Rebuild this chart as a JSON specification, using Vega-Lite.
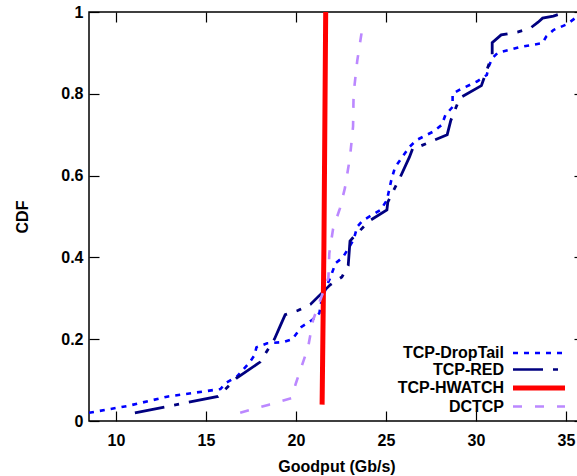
{
  "$schema": "https://vega.github.io/schema/vega-lite/v6.json",
  "autosize": {"type": "none"},
  "padding": {"left": 89, "top": 12, "right": 0, "bottom": 55},
  "width": 495,
  "height": 409,
  "background": "white",
  "config": {
    "view": {"stroke": "black", "strokeWidth": 1.5},
    "font": "Liberation Sans",
    "axis": {"grid": false, "domain": false, "tickColor": "black", "tickWidth": 1.2, "tickSize": -10,
      "labelFont": "Liberation Sans", "labelFontWeight": "bold", "labelFontSize": 16, "labelColor": "black",
      "titleFont": "Liberation Sans", "titleFontWeight": "bold", "titleFontSize": 16, "titleColor": "black"}
  },
  "data": {"values": [
    {"s":"TCP-DropTail","x":8.5,"y":0.02},{"s":"TCP-DropTail","x":10.67,"y":0.037},{"s":"TCP-DropTail","x":12.9,"y":0.06},{"s":"TCP-DropTail","x":14.5,"y":0.07},{"s":"TCP-DropTail","x":15.8,"y":0.078},{"s":"TCP-DropTail","x":16.1,"y":0.093},{"s":"TCP-DropTail","x":16.7,"y":0.108},{"s":"TCP-DropTail","x":17.4,"y":0.142},{"s":"TCP-DropTail","x":17.7,"y":0.161},{"s":"TCP-DropTail","x":17.8,"y":0.18},{"s":"TCP-DropTail","x":18.4,"y":0.19},{"s":"TCP-DropTail","x":19.3,"y":0.193},{"s":"TCP-DropTail","x":19.8,"y":0.2},{"s":"TCP-DropTail","x":20.3,"y":0.23},{"s":"TCP-DropTail","x":20.9,"y":0.247},{"s":"TCP-DropTail","x":21.3,"y":0.264},{"s":"TCP-DropTail","x":21.4,"y":0.29},{"s":"TCP-DropTail","x":21.7,"y":0.33},{"s":"TCP-DropTail","x":21.9,"y":0.35},{"s":"TCP-DropTail","x":22.2,"y":0.386},{"s":"TCP-DropTail","x":22.6,"y":0.4},{"s":"TCP-DropTail","x":23.2,"y":0.443},{"s":"TCP-DropTail","x":23.4,"y":0.475},{"s":"TCP-DropTail","x":23.7,"y":0.49},{"s":"TCP-DropTail","x":24.7,"y":0.516},{"s":"TCP-DropTail","x":25.05,"y":0.54},{"s":"TCP-DropTail","x":25.3,"y":0.59},{"s":"TCP-DropTail","x":25.5,"y":0.62},{"s":"TCP-DropTail","x":26.3,"y":0.67},{"s":"TCP-DropTail","x":26.7,"y":0.687},{"s":"TCP-DropTail","x":27.6,"y":0.707},{"s":"TCP-DropTail","x":28.1,"y":0.724},{"s":"TCP-DropTail","x":28.3,"y":0.748},{"s":"TCP-DropTail","x":28.7,"y":0.768},{"s":"TCP-DropTail","x":28.7,"y":0.8},{"s":"TCP-DropTail","x":29.1,"y":0.81},{"s":"TCP-DropTail","x":30.05,"y":0.83},{"s":"TCP-DropTail","x":30.6,"y":0.846},{"s":"TCP-DropTail","x":30.7,"y":0.866},{"s":"TCP-DropTail","x":30.9,"y":0.887},{"s":"TCP-DropTail","x":31.2,"y":0.9},{"s":"TCP-DropTail","x":32.4,"y":0.914},{"s":"TCP-DropTail","x":33.7,"y":0.924},{"s":"TCP-DropTail","x":33.9,"y":0.94},{"s":"TCP-DropTail","x":34.3,"y":0.956},{"s":"TCP-DropTail","x":35.05,"y":0.97},{"s":"TCP-DropTail","x":35.6,"y":0.988},{"s":"TCP-DropTail","x":36,"y":1.0},
    {"s":"TCP-RED","x":11.05,"y":0.02},{"s":"TCP-RED","x":15.67,"y":0.06},{"s":"TCP-RED","x":16.7,"y":0.105},{"s":"TCP-RED","x":18.0,"y":0.144},{"s":"TCP-RED","x":18.8,"y":0.2},{"s":"TCP-RED","x":19.1,"y":0.23},{"s":"TCP-RED","x":19.4,"y":0.26},{"s":"TCP-RED","x":20.1,"y":0.27},{"s":"TCP-RED","x":20.8,"y":0.285},{"s":"TCP-RED","x":21.6,"y":0.32},{"s":"TCP-RED","x":21.9,"y":0.333},{"s":"TCP-RED","x":22.55,"y":0.352},{"s":"TCP-RED","x":22.9,"y":0.38},{"s":"TCP-RED","x":23.0,"y":0.44},{"s":"TCP-RED","x":23.2,"y":0.45},{"s":"TCP-RED","x":24.1,"y":0.49},{"s":"TCP-RED","x":25.05,"y":0.516},{"s":"TCP-RED","x":25.1,"y":0.535},{"s":"TCP-RED","x":25.8,"y":0.597},{"s":"TCP-RED","x":26.3,"y":0.645},{"s":"TCP-RED","x":26.5,"y":0.668},{"s":"TCP-RED","x":26.9,"y":0.672},{"s":"TCP-RED","x":27.7,"y":0.687},{"s":"TCP-RED","x":28.4,"y":0.7},{"s":"TCP-RED","x":28.6,"y":0.735},{"s":"TCP-RED","x":29.1,"y":0.79},{"s":"TCP-RED","x":30.3,"y":0.82},{"s":"TCP-RED","x":30.9,"y":0.895},{"s":"TCP-RED","x":30.9,"y":0.925},{"s":"TCP-RED","x":31.4,"y":0.944},{"s":"TCP-RED","x":32.3,"y":0.951},{"s":"TCP-RED","x":33.0,"y":0.96},{"s":"TCP-RED","x":33.45,"y":0.975},{"s":"TCP-RED","x":33.7,"y":0.985},{"s":"TCP-RED","x":34.3,"y":0.99},{"s":"TCP-RED","x":35.0,"y":1.0},
    {"s":"TCP-HWATCH","x":21.45,"y":0.04},{"s":"TCP-HWATCH","x":21.55,"y":0.42},{"s":"TCP-HWATCH","x":21.65,"y":1.0},
    {"s":"DCTCP","x":16.9,"y":0.02},{"s":"DCTCP","x":18.5,"y":0.04},{"s":"DCTCP","x":19.75,"y":0.056},{"s":"DCTCP","x":20.0,"y":0.093},{"s":"DCTCP","x":20.3,"y":0.132},{"s":"DCTCP","x":20.67,"y":0.18},{"s":"DCTCP","x":20.95,"y":0.247},{"s":"DCTCP","x":21.3,"y":0.29},{"s":"DCTCP","x":21.8,"y":0.35},{"s":"DCTCP","x":21.85,"y":0.41},{"s":"DCTCP","x":22.06,"y":0.47},{"s":"DCTCP","x":22.44,"y":0.52},{"s":"DCTCP","x":22.72,"y":0.57},{"s":"DCTCP","x":23.0,"y":0.645},{"s":"DCTCP","x":23.17,"y":0.72},{"s":"DCTCP","x":23.2,"y":0.8},{"s":"DCTCP","x":23.4,"y":0.88},{"s":"DCTCP","x":23.7,"y":0.965}
  ]},
  "resolve": {"axis": {"x": "independent", "y": "independent"}},
  "layer": [
    {
      "transform": [{"filter": "datum.s === 'TCP-DropTail'"}],
      "mark": {"type": "line", "clip": true, "strokeWidth": 2.6},
      "encoding": {
        "x": {"field": "x", "type": "quantitative", "scale": {"domain": [8.5, 36], "nice": false, "zero": false},
          "axis": {"orient": "bottom", "values": [10,15,20,25,30,35], "title": "Goodput (Gb/s)", "labelPadding": 21, "titlePadding": 10}},
        "y": {"field": "y", "type": "quantitative", "scale": {"domain": [0, 1], "nice": false},
          "axis": {"orient": "left", "values": [0,0.2,0.4,0.6,0.8,1], "format": "~g", "title": "CDF", "labelPadding": 16, "titlePadding": 30}},
        "color": {"field": "s", "type": "nominal", "scale": {"domain": ["TCP-DropTail","TCP-RED","TCP-HWATCH","DCTCP"], "range": ["#0000ff","#000080","#ff0000","#bb88ff"]},
          "legend": {"orient": "none", "legendX": 442, "legendY": 333, "padding": 0, "title": null, "symbolType": "stroke", "labelAlign": "right", "labelOffset": -43, "symbolSize": 256, "rowPadding": 0.5, "labelFont": "Liberation Sans", "labelFontWeight": "bold", "labelFontSize": 16, "labelColor": "black", "labelLimit": 0,
            "encode": {"symbols": {"update": {"shape": {"value": "M-3.25,0H3.25"}, "strokeWidth": {"signal": "datum.value === 'TCP-HWATCH' ? 5 : 2.6"}}}}}},
        "strokeDash": {"field": "s", "type": "nominal", "scale": {"domain": ["TCP-DropTail","TCP-RED","TCP-HWATCH","DCTCP"], "range": [[5,6],[30,10,5,10],[1,0],[9,13]]}}
      }
    },
    {
      "transform": [{"filter": "datum.s === 'TCP-RED'"}],
      "mark": {"type": "line", "clip": true, "strokeWidth": 2.8},
      "encoding": {
        "x": {"field": "x", "type": "quantitative", "axis": {"orient": "top", "values": [10,15,20,25,30,35], "labels": false, "title": null}},
        "y": {"field": "y", "type": "quantitative", "axis": {"orient": "right", "values": [0,0.2,0.4,0.6,0.8,1], "labels": false, "title": null}},
        "color": {"field": "s", "type": "nominal"},
        "strokeDash": {"field": "s", "type": "nominal"}
      }
    },
    {
      "transform": [{"filter": "datum.s === 'TCP-HWATCH'"}],
      "mark": {"type": "line", "clip": true, "strokeWidth": 5},
      "encoding": {
        "x": {"field": "x", "type": "quantitative", "axis": null},
        "y": {"field": "y", "type": "quantitative", "axis": null},
        "color": {"field": "s", "type": "nominal"},
        "strokeDash": {"field": "s", "type": "nominal"}
      }
    },
    {
      "transform": [{"filter": "datum.s === 'DCTCP'"}],
      "mark": {"type": "line", "clip": true, "strokeWidth": 2.6},
      "encoding": {
        "x": {"field": "x", "type": "quantitative", "axis": null},
        "y": {"field": "y", "type": "quantitative", "axis": null},
        "color": {"field": "s", "type": "nominal"},
        "strokeDash": {"field": "s", "type": "nominal"}
      }
    }
  ]
}
